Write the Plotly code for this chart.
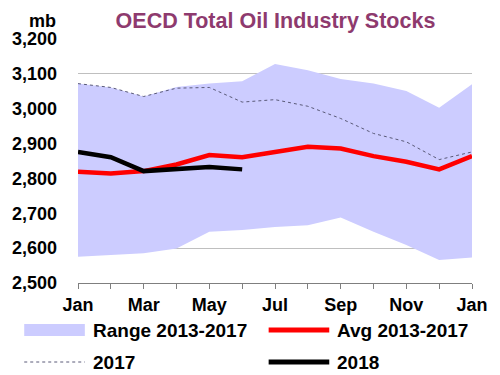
import plotly.graph_objects as go

months = ["Jan", "Feb", "Mar", "Apr", "May", "Jun", "Jul", "Aug", "Sep", "Oct", "Nov", "Dec", "Jan"]
x_idx = list(range(len(months)))
tick_labels = ["Jan", "", "Mar", "", "May", "", "Jul", "", "Sep", "", "Nov", "", "Jan"]

range_upper = [3072, 3061, 3035, 3062, 3072, 3079, 3128, 3110, 3085, 3072, 3051, 3003, 3070]
range_lower = [2575, 2580, 2585, 2599, 2647, 2652, 2661, 2666, 2688, 2647, 2609, 2566, 2573]
avg_2013_2017 = [2819, 2814, 2821, 2840, 2867, 2861, 2876, 2891, 2886, 2864, 2848, 2826, 2864]
stocks_2017 = [3072, 3061, 3035, 3059, 3061, 3019, 3026, 3007, 2972, 2929, 2905, 2854, 2876]
stocks_2018 = [2876, 2861, 2821, 2827, 2833, 2826]

FONT = "Liberation Sans, Arial, sans-serif"
RANGE_COLOR = "#CCCCFF"
AVG_COLOR = "#FF0000"
C2017 = "#5A5A78"
C2018 = "#000000"

# plot-area geometry in pixels
W, H = 500, 375
L, R, T, B = 77, 480, 39, 283


def px_x(px):
    return (px - L) / (R - L)


def px_y(py):
    return (B - py) / (B - T)


fig = go.Figure()
fig.add_trace(go.Scatter(x=x_idx, y=range_lower, mode="lines", line=dict(width=0, color=RANGE_COLOR),
                         showlegend=False, hoverinfo="skip"))
fig.add_trace(go.Scatter(x=x_idx, y=range_upper, mode="lines", line=dict(width=0, color=RANGE_COLOR),
                         fill="tonexty", fillcolor=RANGE_COLOR, name="Range 2013-2017", showlegend=False))
fig.add_trace(go.Scatter(x=x_idx, y=stocks_2017, mode="lines", line=dict(width=1, color=C2017, dash="dot"),
                         name="2017", showlegend=False))
fig.add_trace(go.Scatter(x=x_idx, y=avg_2013_2017, mode="lines", line=dict(width=4.5, color=AVG_COLOR),
                         name="Avg 2013-2017", showlegend=False))
fig.add_trace(go.Scatter(x=x_idx[:len(stocks_2018)], y=stocks_2018, mode="lines",
                         line=dict(width=4.5, color=C2018), name="2018", showlegend=False))

# manual two-column legend
legend_items = [
    ("Range 2013-2017", "rect", RANGE_COLOR, 22, 330),
    ("Avg 2013-2017", "line", AVG_COLOR, 272, 330),
    ("2017", "dot", C2017, 22, 362),
    ("2018", "line", C2018, 272, 362),
]
shapes = []
annotations = []
for label, kind, color, x0, yc in legend_items:
    x1 = x0 + 62
    if kind == "rect":
        shapes.append(dict(type="rect", xref="paper", yref="paper", x0=px_x(x0), x1=px_x(x1),
                           y0=px_y(yc + 6), y1=px_y(yc - 6), fillcolor=color, line=dict(width=0)))
    elif kind == "dot":
        shapes.append(dict(type="line", xref="paper", yref="paper", x0=px_x(x0), x1=px_x(x1),
                           y0=px_y(yc), y1=px_y(yc), line=dict(color=color, width=1, dash="dot")))
    else:
        shapes.append(dict(type="line", xref="paper", yref="paper", x0=px_x(x0), x1=px_x(x1),
                           y0=px_y(yc), y1=px_y(yc), line=dict(color=color, width=5)))
    annotations.append(dict(text=f"<b>{label}</b>", xref="paper", yref="paper", x=px_x(x1 + 6), y=px_y(yc),
                            xanchor="left", yanchor="middle", showarrow=False,
                            font=dict(size=19, family=FONT, color="black")))

annotations.append(dict(text="<b>mb</b>", xref="paper", yref="paper", x=px_x(57), y=px_y(21),
                        xanchor="right", yanchor="middle", showarrow=False,
                        font=dict(size=18, family=FONT, color="black")))

fig.update_layout(
    width=W, height=H,
    margin=dict(l=L, r=W - R, t=T, b=H - B),
    paper_bgcolor="white", plot_bgcolor="white",
    font=dict(family=FONT, color="black"),
    showlegend=False,
    title=dict(text="<b>OECD Total Oil Industry Stocks</b>", font=dict(size=21.5, color="#8E3A6E", family=FONT),
               xref="container", x=275.5 / W, xanchor="center", yref="container", y=1 - 20 / H, yanchor="middle"),
    xaxis=dict(range=[0, 12], tickmode="array", tickvals=x_idx, ticktext=[f"<b>{t}</b>" for t in tick_labels],
               showgrid=False, zeroline=False, showline=True, linecolor="#7F7F7F", linewidth=1,
               ticks="outside", ticklen=5, tickcolor="#7F7F7F", tickfont=dict(size=18, family=FONT)),
    yaxis=dict(range=[2500, 3200], dtick=100, tickformat=",", showgrid=True, gridcolor="#BFBFBF", gridwidth=1,
               zeroline=False, showline=False, ticks="", ticklabelstandoff=20,
               tickfont=dict(size=18, family=FONT, weight="bold")),
    shapes=shapes,
    annotations=annotations,
)

fig.write_html("out.html", config={"displayModeBar": False},
               post_script="document.body.style.margin='0';document.body.style.overflow='hidden';")
